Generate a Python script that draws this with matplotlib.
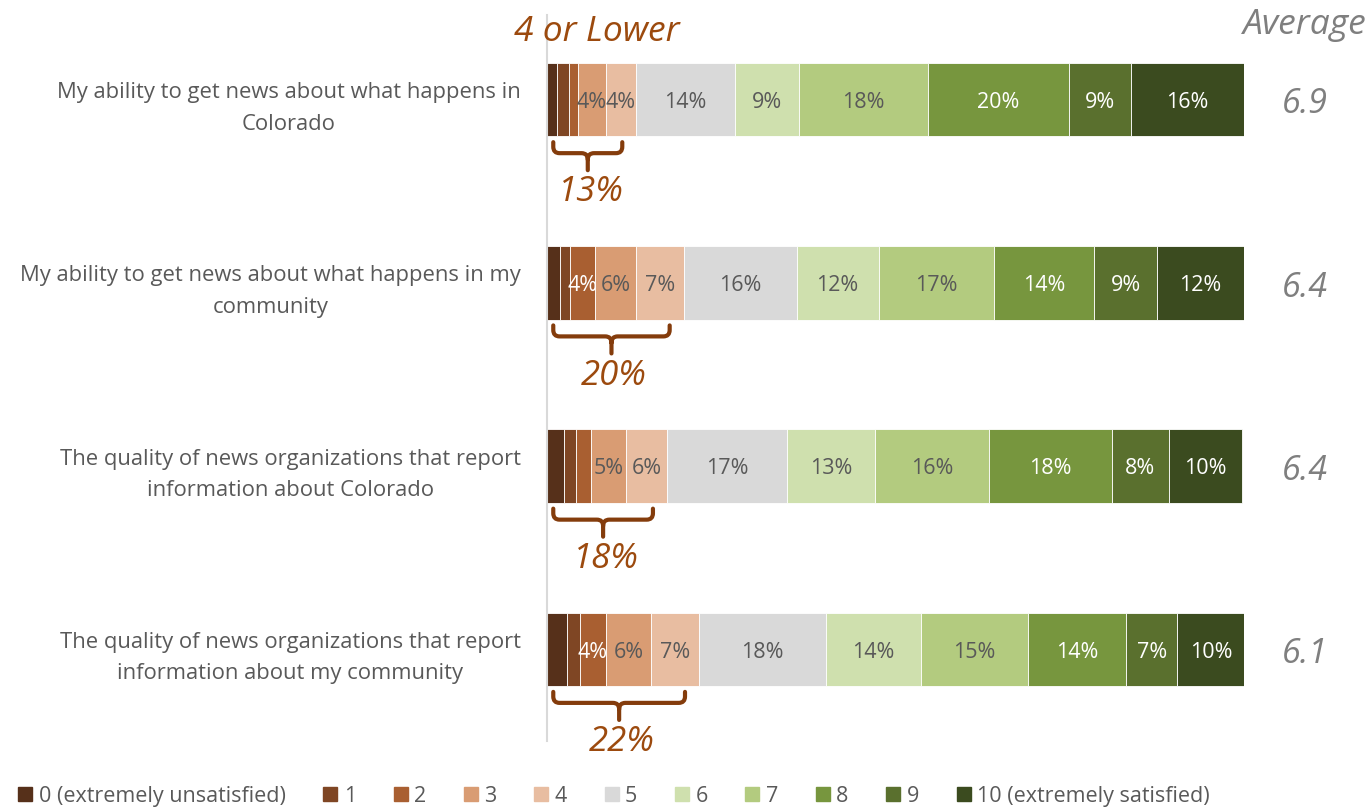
import numpy as np
import matplotlib
matplotlib.use("Agg")
import matplotlib.pyplot as plt
from matplotlib.path import Path
from matplotlib.patches import PathPatch

plt.rcParams['font.family'] = ['Open Sans', 'DejaVu Sans']

# survey items (top to bottom)
items = [
    "My ability to get news about what happens in\nColorado",
    "My ability to get news about what happens in my\ncommunity",
    "The quality of news organizations that report\ninformation about Colorado",
    "The quality of news organizations that report\ninformation about my community",
]

scale_labels = ["0 (extremely unsatisfied)", "1", "2", "3", "4", "5",
                "6", "7", "8", "9", "10 (extremely satisfied)"]

# percent per rating 0..10, one list per item
row1 = [1.4, 1.8, 1.3, 3.9, 4.4, 14.2, 9.2, 18.5, 20.2, 8.9, 16.2]
row2 = [1.9, 1.4, 3.6, 5.9, 6.8, 16.2, 11.8, 16.6, 14.3, 9.0, 12.5]
row3 = [2.4, 1.7, 2.2, 5.0, 5.9, 17.2, 12.7, 16.3, 17.6, 8.3, 10.4]
row4 = [2.9, 1.8, 3.8, 6.4, 6.9, 18.2, 13.6, 15.4, 14.1, 7.3, 9.8]
rows = [row1, row2, row3, row4]

low_totals = [13, 20, 18, 22]      # "4 or lower" share
averages = [6.9, 6.4, 6.4, 6.1]

colors = ['#56301a', '#7f4624', '#a95f31', '#d99c73', '#e8bda1', '#d9d9d9',
          '#cfe0ae', '#b3cb7f', '#77963e', '#5a702e', '#3b4b1f']
white_text = {2, 8, 9, 10}
gray = '#595959'
brown = '#843c0c'
brown_txt = '#9c4a0e'

fig = plt.figure(figsize=(13.71, 8.12), dpi=100)
ax = fig.add_axes([547/1371, 1 - 742/812, 697/1371, 726/812])

ypos = np.arange(len(rows))
for i, vals in enumerate(rows):
    left = 0
    for k, v in enumerate(vals):
        ax.barh(ypos[i], v, left=left, height=0.4, color=colors[k],
                edgecolor='white', linewidth=0.6)
        if v >= 3.5:
            ax.text(left + v/2, ypos[i] + 0.01, f"{round(v)}%", ha='center', va='center',
                    fontsize=15.5, color='white' if k in white_text else gray)
        left += v

    # bracket under the 0-4 segments
    x0 = 0.9
    x1 = sum(vals[:5]) - 2.0
    xm = (x0 + x1) / 2
    top = ypos[i] + 0.232
    h = ypos[i] + 0.292
    bot = ypos[i] + 0.385
    rx, ry = 0.9, 0.035
    verts = [(x0, top), (x0, h - ry), (x0, h), (x0 + rx, h), (xm - rx, h), (xm, h), (xm, h + ry), (xm, bot),
             (x1, top), (x1, h - ry), (x1, h), (x1 - rx, h), (xm + rx, h), (xm, h), (xm, h + ry)]
    codes = [Path.MOVETO, Path.LINETO, Path.CURVE3, Path.CURVE3, Path.LINETO, Path.CURVE3, Path.CURVE3, Path.LINETO,
             Path.MOVETO, Path.LINETO, Path.CURVE3, Path.CURVE3, Path.LINETO, Path.CURVE3, Path.CURVE3]
    ax.add_patch(PathPatch(Path(verts, codes), fill=False, edgecolor=brown, lw=3,
                           capstyle='round', joinstyle='round', clip_on=False))
    ax.text(xm + 0.4, ypos[i] + 0.5, f"{low_totals[i]}%", ha='center', va='center',
            fontsize=25, style='italic', color=brown_txt)

    ax.text(108.7, ypos[i] + 0.02, f"{averages[i]}", ha='center', va='center',
            fontsize=24.5, style='italic', color='#7f7f7f', clip_on=False)

ax.text(7.2, -0.375, "4 or Lower", ha='center', va='center', fontsize=25.5,
        style='italic', color=brown_txt)
ax.text(108.7, -0.415, "Average", ha='center', va='center', fontsize=25.5,
        style='italic', color='#7f7f7f', clip_on=False)

ax.set_xlim(0, 100)
ax.set_ylim(3.5, -0.462)
ax.set_xticks([])
ax.set_yticks(ypos)
ax.set_yticklabels(items, fontsize=15.8, color=gray, ha='right',
                   multialignment='center', linespacing=1.65)
ax.tick_params(axis='y', length=0, pad=19)
for s in ['top', 'right', 'bottom']:
    ax.spines[s].set_visible(False)
ax.spines['left'].set_color('#d9d9d9')
ax.spines['left'].set_linewidth(1.5)

handles = [plt.Rectangle((0, 0), 1, 1, color=c) for c in colors]
fig.legend(handles, scale_labels, loc='center', bbox_to_anchor=(614/1371, 1 - 797/812),
           ncol=11, frameon=False, fontsize=15.5, handlelength=0.65, handleheight=0.65,
           handletextpad=0.3, columnspacing=1.75, labelcolor=gray)

fig.savefig("out.png", dpi=100)
